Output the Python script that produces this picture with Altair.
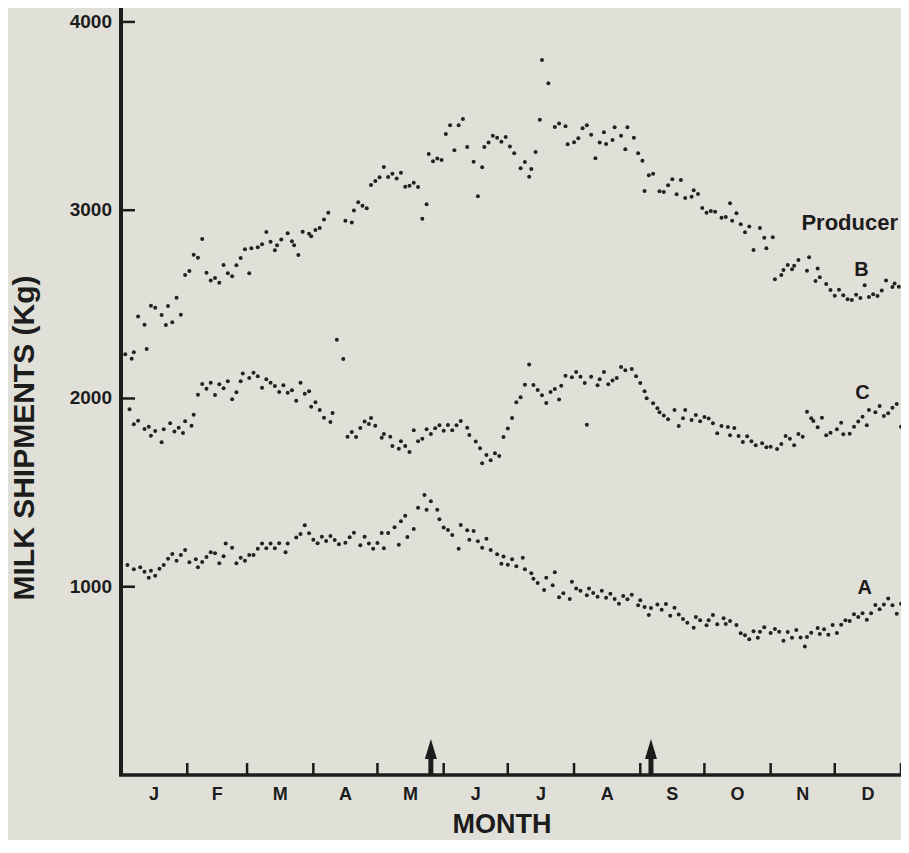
import itertools
import altair as alt
import pandas as pd

# ---------------- data ----------------
month_letters = ["J", "F", "M", "A", "M", "J", "J", "A", "S", "O", "N", "D"]
month_lengths = [31, 28, 31, 30, 31, 30, 31, 31, 30, 31, 30, 31]
y_ticks = [1000, 2000, 3000, 4000]
y_tick_labels = ["1000", "2000", "3000", "4000"]
arrow_days = [145, 248]

label_text = ["Producer", "B", "C", "A"]
label_day = [341, 346.5, 347, 348]
label_kg = [2932, 2683, 2029, 993]
label_size = [22, 20, 20, 20]

x_title = "MONTH"
y_title = "MILK  SHIPMENTS (Kg)"

# (day of year, kg)
producer_A = [(3,1116),(6,1093),(9,1103),(11,1080),(13,1048),(14,1085),(16,1059),(18,1096),(20,1116),(22,1149),(24,1174),(26,1138),(28,1169),(30,1195),(32,1130),(35,1146),(36,1103),(38,1131),(40,1158),(42,1183),(44,1178),(46,1125),(48,1162),(49,1229),(52,1207),(54,1125),(56,1154),(58,1138),(60,1169),(62,1169),(64,1202),(66,1229),(68,1204),(70,1229),(72,1204),(74,1231),(77,1183),(78,1229),(82,1261),(84,1280),(86,1326),(88,1284),(90,1250),(92,1231),(94,1266),(96,1243),(98,1270),(100,1248),(102,1225),(105,1234),(107,1263),(109,1287),(112,1220),(114,1266),(116,1229),(118,1202),(120,1232),(122,1286),(123,1204),(125,1286),(128,1316),(130,1223),(131,1348),(133,1377),(134,1264),(137,1307),(139,1420),(142,1487),(143,1409),(145,1454),(148,1409),(149,1358),(151,1314),(153,1301),(155,1275),(158,1202),(159,1328),(162,1300),(163,1250),(165,1296),(167,1241),(169,1207),(171,1255),(173,1195),(176,1172),(178,1122),(179,1160),(181,1117),(183,1146),(185,1109),(188,1154),(189,1093),(192,1071),(193,1043),(195,1020),(198,983),(199,1048),(202,1008),(203,1077),(205,944),(207,965),(210,935),(211,1027),(213,990),(215,979),(218,955),(219,990),(221,967),(223,947),(225,979),(227,942),(229,963),(231,935),(233,910),(235,951),(237,933),(239,958),(242,901),(243,928),(245,892),(247,850),(248,887),(251,905),(253,878),(255,908),(257,846),(259,889),(261,852),(263,829),(265,809),(268,782),(269,839),(271,822),(274,795),(275,822),(277,850),(279,801),(282,832),(283,802),(285,818),(288,797),(290,753),(292,742),(294,721),(296,763),(298,729),(299,761),(301,785),(304,754),(306,776),(308,761),(310,713),(312,760),(314,729),(316,770),(318,731),(320,682),(321,733),(323,756),(326,781),(327,749),(329,774),(331,745),(333,797),(335,754),(337,798),(339,822),(341,818),(343,854),(345,839),(347,859),(349,825),(351,859),(353,903),(355,880),(357,905),(359,937),(361,901),(363,857),(365,910)]

producer_B = [(2,2235),(5,2211),(6,2245),(8,2435),(11,2392),(12,2263),(14,2493),(16,2482),(19,2444),(21,2390),(22,2491),(24,2405),(26,2535),(28,2445),(30,2656),(32,2677),(34,2764),(36,2748),(38,2847),(40,2668),(42,2626),(44,2640),(46,2615),(48,2709),(50,2665),(52,2649),(54,2707),(56,2746),(58,2793),(60,2665),(61,2798),(64,2803),(66,2819),(68,2884),(70,2833),(72,2787),(73,2814),(75,2844),(78,2877),(80,2835),(81,2814),(83,2762),(85,2886),(88,2875),(89,2862),(91,2895),(93,2906),(95,2950),(97,2987),(101,2312),(104,2210),(105,2944),(108,2934),(109,2998),(111,3042),(113,3023),(115,3010),(117,3134),(119,3155),(121,3175),(123,3230),(125,3177),(127,3193),(129,3168),(131,3199),(133,3125),(135,3130),(137,3146),(139,3123),(141,2955),(143,3032),(144,3299),(146,3260),(148,3274),(150,3267),(152,3405),(154,3451),(156,3318),(158,3451),(160,3485),(162,3336),(165,3258),(167,3074),(169,3228),(170,3336),(172,3359),(174,3396),(176,3385),(178,3364),(180,3389),(182,3338),(184,3302),(187,3223),(189,3256),(191,3178),(192,3219),(194,3309),(196,3481),(197,3798),(200,3674),(203,3442),(205,3460),(208,3446),(209,3350),(212,3361),(214,3382),(216,3435),(218,3451),(220,3401),(222,3276),(224,3359),(226,3414),(227,3352),(230,3373),(231,3441),(234,3396),(236,3324),(237,3441),(240,3385),(242,3302),(244,3263),(245,3102),(247,3186),(249,3194),(252,3101),(254,3097),(256,3132),(258,3164),(260,3085),(262,3161),(264,3065),(267,3072),(268,3106),(270,3086),(272,3012),(274,2987),(276,2996),(278,2992),(281,2960),(283,2964),(285,3037),(286,2944),(288,2984),(290,2925),(292,2883),(294,2913),(296,2789),(299,2906),(301,2853),(302,2798),(305,2856),(306,2633),(309,2656),(310,2683),(312,2709),(314,2686),(315,2705),(317,2736),(321,2679),(322,2750),(325,2624),(326,2690),(327,2644),(330,2608),(332,2576),(334,2546),(336,2578),(338,2548),(340,2527),(342,2523),(344,2551),(346,2534),(348,2601),(350,2539),(352,2553),(354,2544),(356,2573),(358,2626),(361,2592),(362,2610),(364,2594)]

producer_C = [(0,1987),(4,1943),(6,1863),(8,1882),(11,1838),(13,1850),(14,1802),(16,1827),(19,1767),(20,1836),(23,1868),(25,1824),(27,1845),(29,1817),(30,1879),(33,1855),(34,1914),(36,2020),(38,2077),(40,2052),(42,2084),(44,2019),(46,2075),(48,2054),(50,2091),(52,1996),(54,2033),(56,2091),(57,2132),(60,2109),(62,2137),(64,2118),(66,2057),(68,2102),(70,2084),(72,2066),(74,2034),(76,2070),(78,2031),(80,2044),(82,1988),(84,2084),(86,2025),(88,2038),(89,1956),(91,1980),(93,1939),(95,1898),(98,1875),(99,1923),(106,1797),(108,1822),(110,1795),(112,1843),(114,1877),(116,1865),(117,1896),(119,1855),(122,1792),(123,1811),(126,1797),(127,1748),(130,1733),(131,1773),(133,1748),(135,1716),(137,1831),(139,1773),(141,1786),(143,1836),(145,1811),(147,1842),(149,1858),(151,1829),(153,1859),(155,1831),(157,1858),(159,1880),(162,1845),(163,1806),(166,1771),(168,1735),(169,1656),(171,1700),(173,1672),(175,1709),(177,1695),(179,1795),(181,1840),(183,1896),(185,1980),(187,2006),(189,2073),(191,2180),(193,2072),(195,2045),(197,2017),(199,1976),(201,2034),(203,2050),(205,1994),(206,2068),(208,2121),(211,2113),(213,2141),(215,2116),(217,2082),(218,1861),(220,2116),(223,2070),(224,2102),(226,2141),(228,2075),(230,2095),(232,2109),(234,2167),(236,2150),(239,2157),(241,2118),(243,2082),(245,2038),(246,2001),(249,1974),(251,1948),(252,1927),(254,1909),(256,1889),(259,1939),(261,1854),(263,1895),(264,1939),(267,1886),(269,1912),(271,1879),(273,1902),(275,1893),(277,1868),(279,1815),(281,1854),(284,1849),(285,1804),(287,1843),(289,1801),(291,1769),(293,1799),(295,1773),(297,1751),(300,1762),(302,1741),(304,1744),(307,1732),(309,1758),(311,1801),(313,1786),(315,1751),(317,1811),(319,1797),(321,1930),(323,1895),(324,1880),(326,1847),(328,1898),(330,1804),(332,1818),(335,1836),(337,1871),(338,1810),(341,1813),(343,1850),(345,1877),(347,1903),(349,1858),(350,1939),(353,1927),(355,1960),(357,1907),(359,1921),(361,1951),(363,1971),(365,1850)]

# ---------------- derived tables ----------------
rows = []
for name, pts in (("A", producer_A), ("B", producer_B), ("C", producer_C)):
    for d, v in pts:
        rows.append({"producer": name, "day": d, "kg": v})
df = pd.DataFrame(rows)

month_ends = list(itertools.accumulate(month_lengths))
month_starts = [0] + month_ends[:-1]
month_mids = [(s + e) / 2 for s, e in zip(month_starts, month_ends)]

FONT = "Liberation Sans"
INK = "#1c1c1c"
BG = "#e1e0d8"

W, H = 780, 767
x_scale = alt.Scale(domain=[0, 365], nice=False, zero=False)
y_scale = alt.Scale(domain=[0, 4074], nice=False, zero=True)


def X(field="day"):
    return alt.X(f"{field}:Q", scale=x_scale, axis=None)


def Y(field="kg"):
    return alt.Y(f"{field}:Q", scale=y_scale, axis=None)


points = alt.Chart(df).mark_circle(size=16, color="#222222", opacity=1).encode(
    x=X(), y=Y())

# axis lines
axis_df = pd.DataFrame({"k": [0]})
y_line = alt.Chart(axis_df).mark_rule(color=INK, strokeWidth=4).encode(
    x=alt.value(0), y=alt.value(-2), y2=alt.value(H))
x_line = alt.Chart(axis_df).mark_rule(color=INK, strokeWidth=3.5).encode(
    x=alt.value(-2), x2=alt.value(W), y=alt.value(H))

yticks = alt.Chart(pd.DataFrame({"kg": y_ticks})).mark_rule(
    color=INK, strokeWidth=2.5).encode(
    y=Y(), x=alt.value(0), x2=alt.value(14))

ylabels = alt.Chart(pd.DataFrame({"kg": y_ticks, "t": y_tick_labels})).mark_text(
    font=FONT, fontSize=19, fontWeight="bold", color=INK, align="right",
    baseline="middle").encode(y=Y(), x=alt.value(-9), text="t:N")

mticks = alt.Chart(pd.DataFrame({"day": month_ends})).mark_rule(
    color=INK, strokeWidth=2.5).encode(
    x=X(), y=alt.value(H), y2=alt.value(H - 12))

mlabels = alt.Chart(pd.DataFrame({"day": month_mids, "m": month_letters})).mark_text(
    font=FONT, fontSize=18, fontWeight="bold", color=INK, baseline="middle").encode(
    x=X(), y=alt.value(H + 20), text="m:N")

xtitle = alt.Chart(pd.DataFrame({"t": [x_title]})).mark_text(
    font=FONT, fontSize=27, fontWeight="bold", color=INK, baseline="alphabetic",
    align="center").encode(x=alt.value(381), y=alt.value(H + 58), text="t:N")
ytitle = alt.Chart(pd.DataFrame({"t": [y_title]})).mark_text(
    font=FONT, fontSize=30, fontWeight="bold", color=INK, baseline="middle",
    align="center", angle=270).encode(x=alt.value(-96), y=alt.value(430), text="t:N")

arrow_df = pd.DataFrame({"day": arrow_days})
shafts = alt.Chart(arrow_df).mark_rule(color=INK, strokeWidth=5).encode(
    x=X(), y=alt.value(H), y2=alt.value(H - 18))
heads = alt.Chart(arrow_df).mark_point(
    shape="M0,-1L0.6,1L-0.6,1Z", size=400, filled=True, color=INK,
    opacity=1, strokeWidth=0).encode(x=X(), y=alt.value(H - 26))

labels = alt.Chart(pd.DataFrame({"day": label_day, "kg": label_kg,
                                 "t": label_text, "s": label_size})).mark_text(
    font=FONT, fontWeight="bold", color=INK, baseline="middle").encode(
    x=X(), y=Y(), text="t:N",
    size=alt.Size("s:Q", scale=None, legend=None))

chart = alt.layer(points, y_line, x_line, yticks, ylabels, mticks, mlabels,
                  xtitle, ytitle, shafts, heads, labels).properties(
    width=W, height=H,
    autosize=alt.AutoSizeParams(type="none"),
    padding={"left": 113, "top": 0, "right": 0, "bottom": 65},
    background=BG,
).configure_view(stroke=None)

chart.save("out.html", embed_options={"renderer": "svg", "actions": False})
